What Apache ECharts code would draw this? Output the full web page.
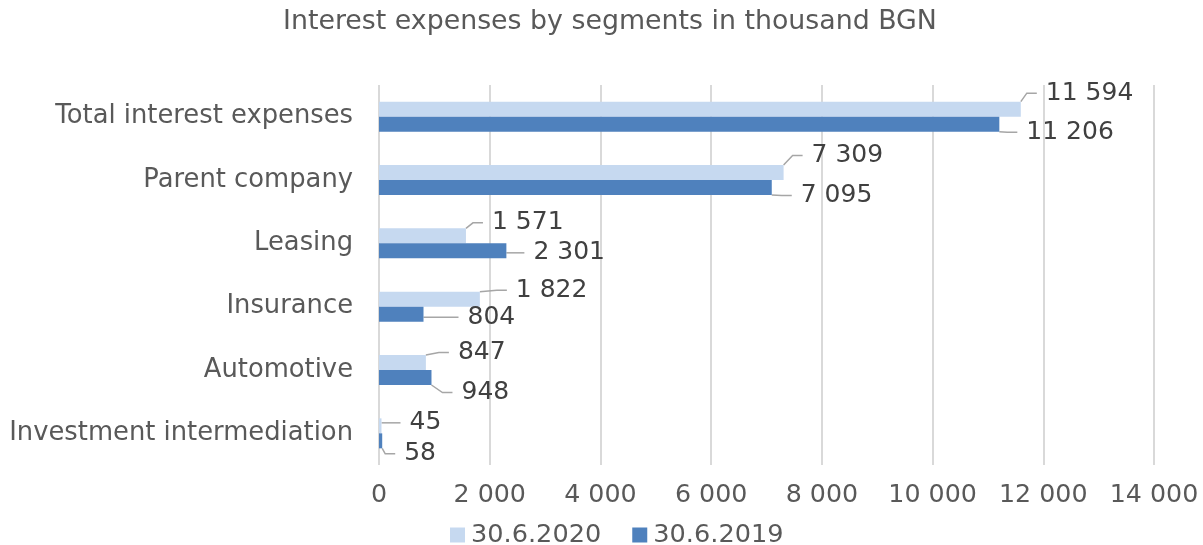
<!DOCTYPE html>
<html>
<head>
<meta charset="utf-8">
<script src="https://cdn.jsdelivr.net/npm/echarts@6/dist/echarts.min.js"></script>
<style>
html, body { margin: 0; padding: 0; background: #fff; }
#chart { width: 1203px; height: 545px; }
</style>
</head>
<body>
<div id="chart"></div>
<script>
// 类目（从下往上）
var categories = ['Investment intermediation', 'Automotive', 'Insurance', 'Leasing', 'Parent company', 'Total interest expenses'];
// 30.6.2020
var values2020 = [45, 847, 1822, 1571, 7309, 11594];
// 30.6.2019
var values2019 = [58, 948, 804, 2301, 7095, 11206];
var seriesNames = ['30.6.2020', '30.6.2019'];
var xTicks = [0, 2000, 4000, 6000, 8000, 10000, 12000, 14000];

var FONT = 'DejaVu Sans, Verdana, sans-serif';

// 标签偏移（手动摆放，同原图）
var offset2020 = [[28, -3], [32, -10], [36, -9], [26, -13], [28, -17], [25, -16]];
var offset2019 = [[22, 13], [30, 15], [44, 3], [27, 2], [29, 8], [27, 8]];
var LABEL_PAD = 9;

function fmt(v) {
	return String(v).replace(/\B(?=(\d{3})+(?!\d))/g, ' ');
}

function barSeries(name, data, offsets) {
	return {
		name: name,
		type: 'bar',
		data: data,
		barWidth: 15,
		barGap: '0%',
		label: {
			show: true,
			position: 'right',
			distance: 0,
			fontFamily: FONT, fontSize: 25, color: '#404040',
			formatter: function (p) { return '{g| }{v|' + fmt(p.value) + '}'; },
			rich: {
				g: { width: LABEL_PAD, fontSize: 25 },
				v: { fontFamily: FONT, fontSize: 25, color: '#404040' }
			}
		},
		labelLayout: function (params) {
			var o = offsets[params.dataIndex];
			return { dx: o[0] - LABEL_PAD, dy: o[1] };
		},
		labelLine: { show: true, length2: 10, lineStyle: { color: '#a6a6a6', width: 1.5 } }
	};
}

var dom = document.getElementById('chart');
var myChart = echarts.init(dom, null, { renderer: 'canvas' });

var option = {
	animation: false,
	color: ['#c6d9f0', '#4f81bd'],
	title: {
		text: 'Interest expenses by segments in thousand BGN',
		left: 283,
		top: 9,
		padding: 0,
		textStyle: { fontFamily: FONT, fontSize: 26.8, fontWeight: 'normal', color: '#595959' }
	},
	legend: {
		data: seriesNames,
		top: 522,
		left: 450,
		padding: 0,
		itemWidth: 15,
		itemHeight: 15,
		itemGap: 31,
		icon: 'rect',
		textStyle: { fontFamily: FONT, fontSize: 25.6, color: '#595959', padding: [0, 0, 0, 1] }
	},
	grid: { left: 379, right: 49, top: 85, bottom: 80, containLabel: false },
	xAxis: {
		type: 'value',
		min: xTicks[0],
		max: xTicks[xTicks.length - 1],
		interval: 2000,
		axisLine: { show: false },
		axisTick: { show: false },
		splitLine: { lineStyle: { color: '#d9d9d9', width: 2 } },
		axisLabel: {
			margin: 18,
			fontFamily: FONT, fontSize: 25.3, color: '#595959',
			formatter: function (v) { return fmt(v); }
		}
	},
	yAxis: {
		type: 'category',
		data: categories,
		axisLine: { show: false },
		axisTick: { show: false },
		axisLabel: { margin: 26, fontFamily: FONT, fontSize: 25.8, color: '#595959' }
	},
	series: [
		barSeries(seriesNames[0], values2020, offset2020),
		barSeries(seriesNames[1], values2019, offset2019)
	]
};

myChart.setOption(option, true);
</script>
</body>
</html>
